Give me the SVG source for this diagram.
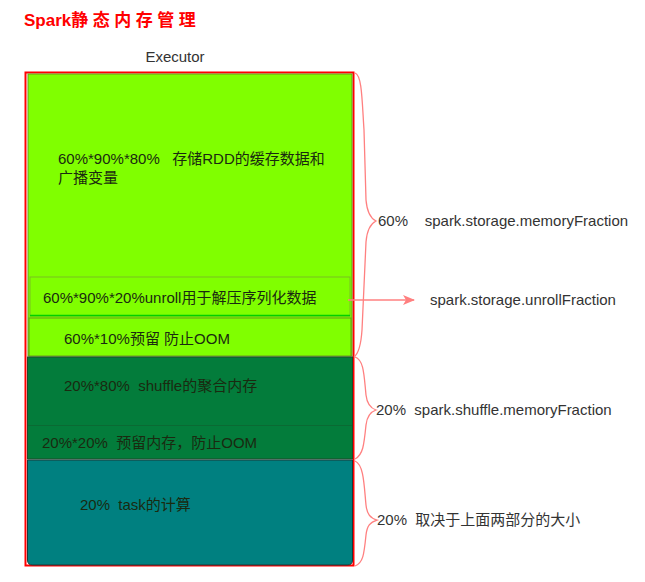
<svg xmlns="http://www.w3.org/2000/svg" width="645" height="582" viewBox="0 0 645 582" xml:space="preserve">
<defs>
<style>
text{font-family:"Liberation Sans","Noto Sans CJK SC",sans-serif;font-size:15px;fill:#222;white-space:pre}
.in{fill:#1a2a10}
.r{fill:#333}
.brace{fill:none;stroke:#ff8080;stroke-width:1.3}
</style>
<marker id="ah" viewBox="0 0 12 10" refX="11" refY="5" markerWidth="12" markerHeight="10" markerUnits="userSpaceOnUse" orient="auto">
<path d="M0,0 L12,5 L0,10 L3,5 Z" fill="#ff8080"/>
</marker>
</defs>
<rect width="645" height="582" fill="#fff"/>
<text x="24" y="26" style="font-size:17px;font-weight:bold;fill:#ff0000">Spark<tspan style="letter-spacing:4.5px">静态内存管理</tspan></text>
<text x="175" y="62" text-anchor="middle" class="r">Executor</text>

<g id="executor">
<rect x="25.5" y="72.5" width="328" height="493" fill="#fff" stroke="#ff0000" stroke-width="2"/>
</g>
<g id="storage">
<rect x="28" y="74" width="324" height="282" fill="#80ff00" stroke="#6a9a1a" stroke-width="1"/>
<text x="58" y="164" class="in">60%*90%*80%   存储RDD的缓存数据和</text>
<text x="58" y="183" class="in">广播变量</text>
</g>
<g id="unroll">
<rect x="30" y="277" width="320" height="39" fill="#80ff00" stroke="#7ac020" stroke-width="1"/>
<line x1="30" y1="315.5" x2="350" y2="315.5" stroke="#00d000" stroke-width="1.5"/>
<text x="43" y="303" class="in">60%*90%*20%unroll用于解压序列化数据</text>
</g>
<g id="reserve60">
<rect x="29" y="318" width="322" height="38" fill="#80ff00" stroke="#6a9a1a" stroke-width="1"/>
<text x="64" y="344" class="in">60%*10%预留 防止OOM</text>
</g>
<g id="shuffle">
<rect x="27.5" y="357" width="325" height="102" fill="#037c3b" stroke="#1f4a2a" stroke-width="1"/>
<line x1="28" y1="425.5" x2="352" y2="425.5" stroke="#0a6a33" stroke-width="1"/>
<text x="64" y="391" class="in">20%*80%  shuffle的聚合内存</text>
<text x="42" y="448" class="in">20%*20%  预留内存，防止OOM</text>
</g>
<g id="task">
<path d="M27.5,460 H352.5 V560 Q352.5,565 347.5,565 H32.5 Q27.5,565 27.5,560 Z" fill="#008080" stroke="#1a3a3a" stroke-width="1"/>
<text x="80" y="510" class="in">20%  task的计算</text>
</g>

<g id="connectors">
<path class="brace" d="M355,73 C362,75 362,100 364,130 L366,200 C367,212 370,218 376,221 C370,224 367,230 366,242 L362,330 C361,345 358,354 354,357"/>
<path class="brace" d="M355,357 C364,360 364,375 366,395 C367,404 370,408 376,410 C370,412 367,416 366,425 C364,445 363,455 355,459"/>
<path class="brace" d="M355,461 C364,465 364,485 366,505 C367,514 370,518 377,520 C370,522 367,526 366,535 C364,555 363,563 355,566"/>
<line x1="348" y1="300" x2="414" y2="300" stroke="#ff8080" stroke-width="1.5" marker-end="url(#ah)"/>
</g>

<g id="labels">
<text x="378" y="226" class="r">60%    spark.storage.memoryFraction</text>
<text x="430" y="305" class="r">spark.storage.unrollFraction</text>
<text x="376" y="415" class="r">20%  spark.shuffle.memoryFraction</text>
<text x="377" y="525" class="r">20%  取决于上面两部分的大小</text>
</g>
</svg>
